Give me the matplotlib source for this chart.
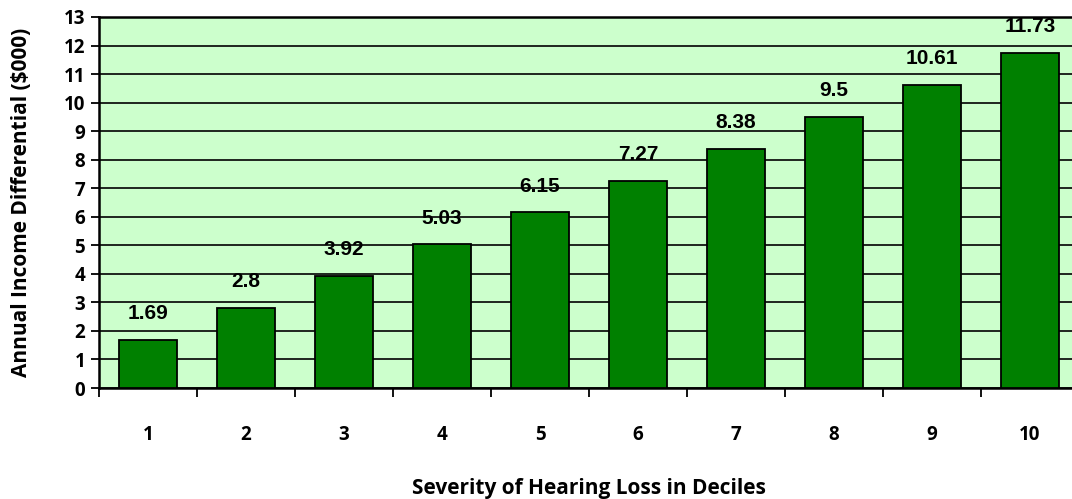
import matplotlib.pyplot as plt
from matplotlib.ticker import MultipleLocator, FixedLocator

# data
deciles = ['1', '2', '3', '4', '5', '6', '7', '8', '9', '10']
income_diff = [1.69, 2.8, 3.92, 5.03, 6.15, 7.27, 8.38, 9.5, 10.61, 11.73]
value_labels = ['1.69', '2.8', '3.92', '5.03', '6.15', '7.27', '8.38', '9.5', '10.61', '11.73']

tick_font = ['Open Sans', 'DejaVu Sans']
label_font = ['Liberation Sans', 'DejaVu Sans']

fig = plt.figure(figsize=(10.72, 4.99), dpi=100)
ax = fig.add_axes([99 / 1072, 1 - 388 / 499, 980 / 1072, 371 / 499])
ax.set_facecolor('#CCFFCC')

x = list(range(len(deciles)))
ax.bar(x, income_diff, width=0.6, color='#008000', edgecolor='black', linewidth=1.3, zorder=3)

for xi, v, lab in zip(x, income_diff, value_labels):
    ax.annotate(lab, (xi, v), xytext=(0, 19), textcoords='offset points',
                ha='center', va='center', fontsize=15, fontweight='bold',
                family=label_font, zorder=4)

ax.set_xlim(-0.5, len(deciles) - 0.5)
ax.set_ylim(0, 13)
ax.yaxis.set_major_locator(MultipleLocator(1))
ax.grid(axis='y', color='black', linewidth=1.2, zorder=1)

ax.set_xticks(x)
ax.set_xticklabels(deciles)
ax.xaxis.set_minor_locator(FixedLocator([i - 0.5 for i in range(len(deciles) + 1)]))
ax.tick_params(axis='x', which='major', length=0, pad=27)
ax.tick_params(axis='x', which='minor', length=6.5, width=1.3, direction='out')
ax.tick_params(axis='y', length=6, width=1.3, direction='out', pad=4)

for lbl in ax.get_xticklabels() + ax.get_yticklabels():
    lbl.set_family(tick_font)
    lbl.set_fontweight('bold')
    lbl.set_fontsize(13.5)

for side in ['left', 'bottom', 'top']:
    ax.spines[side].set_linewidth(1.8)
ax.spines['right'].set_visible(False)

ax.set_xlabel('Severity of Hearing Loss in Deciles', family=tick_font,
              fontweight='bold', fontsize=15)
ax.xaxis.set_label_coords(0.5, -0.243)
ax.set_ylabel('Annual Income Differential ($000)', family=tick_font,
              fontweight='bold', fontsize=15)
ax.yaxis.set_label_coords(-0.068, 0.5)

fig.savefig('out.png', dpi=100)
